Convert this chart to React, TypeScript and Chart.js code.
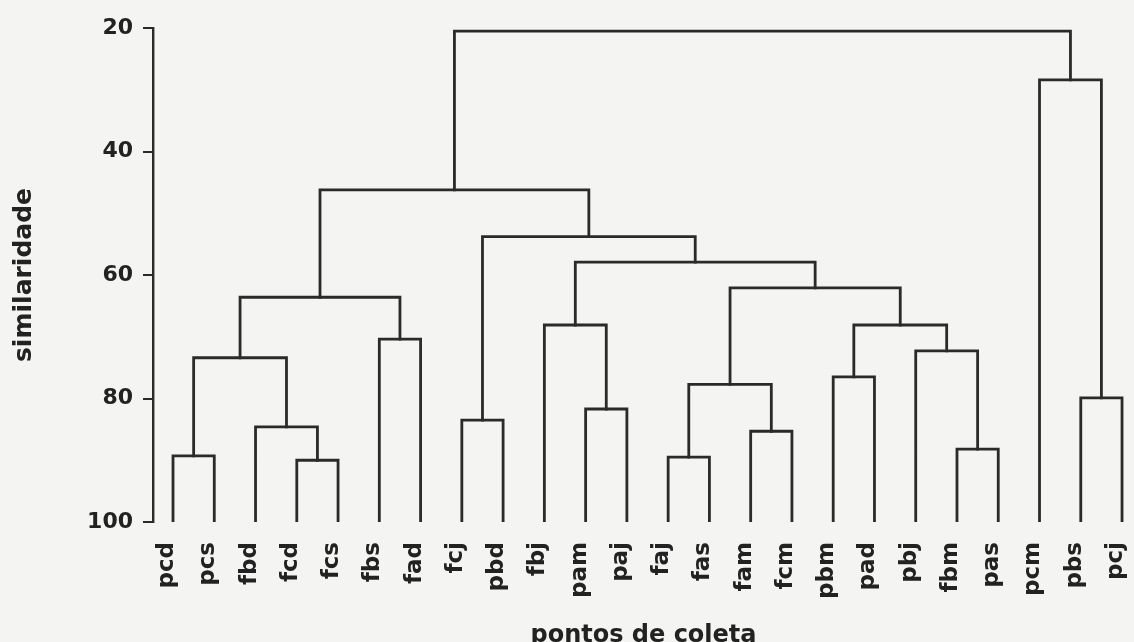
import React, { useEffect, useRef } from "react";
import { Chart, registerables } from "chart.js";

Chart.register(...registerables);

// Leaves (pontos de coleta), left to right
const leaves = [
  "pcd", "pcs", "fbd", "fcd", "fcs", "fbs", "fad", "fcj", "pbd", "fbj", "pam", "paj",
  "faj", "fas", "fam", "fcm", "pbm", "pad", "pbj", "fbm", "pas", "pcm", "pbs", "pcj",
];

// Merge steps: node ids 0..23 are leaves, each merge creates node 24, 25, ...
const mergeLeft = [0, 3, 2, 24, 5, 27, 7, 10, 9, 12, 14, 33, 16, 19, 18, 36, 35, 32, 30, 29, 22, 21, 43];
const mergeRight = [1, 4, 25, 26, 6, 28, 8, 11, 31, 13, 15, 34, 17, 20, 37, 38, 39, 40, 41, 42, 23, 44, 45];
const mergeHeight = [
  89.3, 90.0, 84.6, 73.4, 70.4, 63.6, 83.5, 81.7, 68.1, 89.5, 85.3, 77.7,
  76.5, 88.2, 72.3, 68.1, 62.1, 57.9, 53.8, 46.2, 79.9, 28.4, 20.5,
];

const yTicks = [20, 40, 60, 80, 100];
const leafLevel = 100;

const LINE = "#2a2a2a";
const TEXT = "#222222";
const FONT = "'DejaVu Sans', sans-serif";

export default function App() {
  const ref = useRef<HTMLCanvasElement | null>(null);

  useEffect(() => {
    if (!ref.current) return;
    const nodeX: number[] = leaves.map((_, i) => i);
    const nodeY: number[] = leaves.map(() => leafLevel);
    const datasets: any[] = [];
    mergeLeft.forEach((l, k) => {
      const r = mergeRight[k];
      const h = mergeHeight[k];
      datasets.push({
        data: [
          { x: nodeX[l], y: nodeY[l] },
          { x: nodeX[l], y: h },
          { x: nodeX[r], y: h },
          { x: nodeX[r], y: nodeY[r] },
        ],
        borderColor: LINE,
        borderWidth: 2.8,
        pointRadius: 0,
        tension: 0,
        fill: false,
        borderCapStyle: "square",
        borderJoinStyle: "miter",
      });
      nodeX.push((nodeX[l] + nodeX[r]) / 2);
      nodeY.push(h);
    });

    const chart = new Chart(ref.current, {
      type: "line",
      data: { datasets },
      options: {
        animation: false,
        responsive: false,
        devicePixelRatio: 1,
        layout: { padding: { top: 28, right: 0, bottom: 0, left: 0 } },
        plugins: { legend: { display: false }, tooltip: { enabled: false } },
        scales: {
          x: {
            type: "linear",
            min: -0.485,
            max: 23.29,
            grid: { display: false, drawTicks: false },
            border: { display: false },
            afterBuildTicks: (scale: any) => {
              scale.ticks = leaves.map((_, i) => ({ value: i }));
            },
            afterFit: (scale: any) => {
              scale.height = 120;
              scale.paddingLeft = 0;
              scale.paddingRight = 0;
            },
            ticks: {
              autoSkip: false,
              minRotation: 90,
              maxRotation: 90,
              padding: 20,
              labelOffset: -6,
              color: TEXT,
              font: { family: FONT, size: 23, weight: "bold" },
              callback: (v: any) => leaves[Math.round(Number(v))] ?? "",
            },
            title: {
              display: true,
              text: "pontos de coleta",
              color: TEXT,
              font: { family: FONT, size: 24, weight: "bold" },
              padding: { top: 0, bottom: -8 },
            },
          },
          y: {
            type: "linear",
            reverse: true,
            min: 20,
            max: 100,
            afterBuildTicks: (scale: any) => {
              scale.ticks = yTicks.map((v) => ({ value: v }));
            },
            afterFit: (scale: any) => {
              scale.width = 153;
              scale.paddingTop = 0;
              scale.paddingBottom = 0;
            },
            grid: {
              display: true,
              drawOnChartArea: false,
              drawTicks: true,
              tickLength: 10,
              color: LINE,
              lineWidth: 2,
            },
            border: { display: true, color: LINE, width: 2.4 },
            ticks: {
              padding: 10,
              color: TEXT,
              font: { family: FONT, size: 22, weight: "bold" },
            },
            title: {
              display: true,
              text: "similaridade",
              color: TEXT,
              font: { family: FONT, size: 25, weight: "bold" },
              padding: { top: 9, bottom: 0 },
            },
          },
        },
      } as any,
    });
    return () => chart.destroy();
  }, []);

  return (
    <div
      style={{
        position: "fixed",
        left: 0,
        top: 0,
        width: 1134,
        height: 642,
        background: "#f4f4f2",
      }}
    >
      <canvas ref={ref} width={1134} height={642} style={{ display: "block" }} />
    </div>
  );
}
